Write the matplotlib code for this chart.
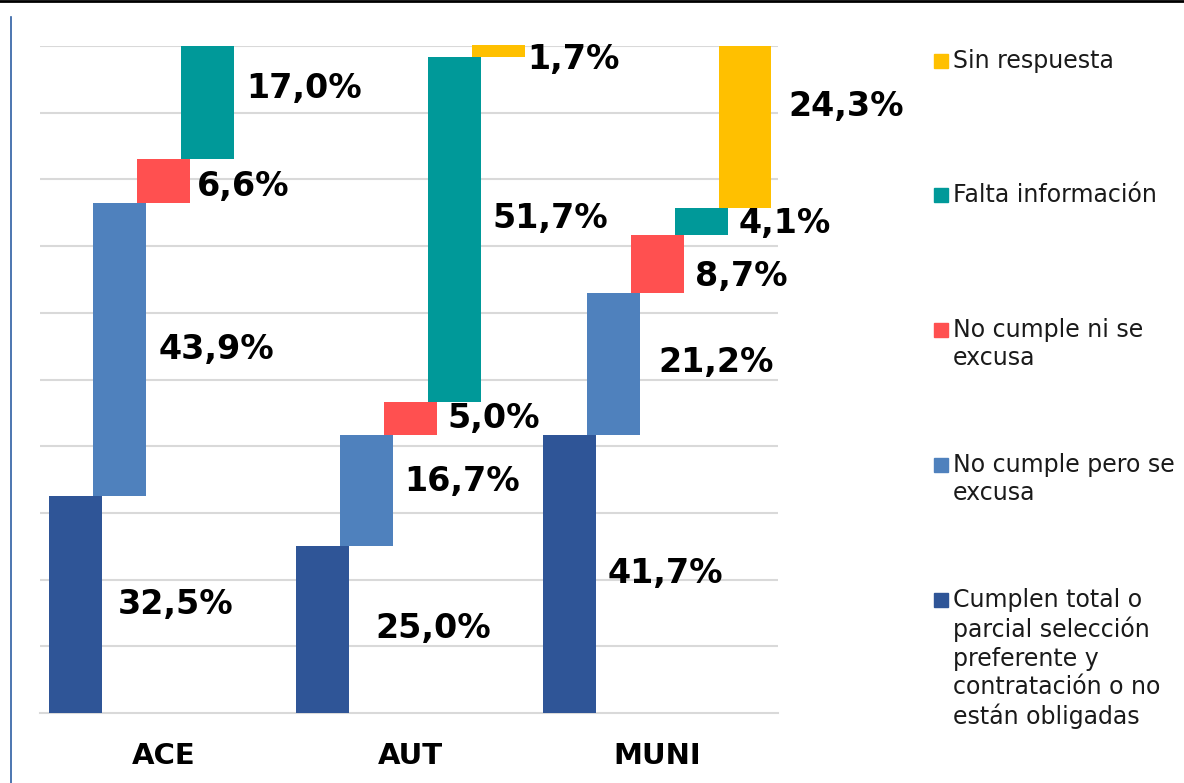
import matplotlib
matplotlib.use("Agg")
import matplotlib.pyplot as plt
from matplotlib.patches import Rectangle
from matplotlib.lines import Line2D
import numpy as np

plt.rcParams["font.family"] = ["DejaVu Sans"]

categories = ["ACE", "AUT", "MUNI"]
series_names = [
    "Cumplen total o\nparcial selección\npreferente y\ncontratación o no\nestán obligadas",
    "No cumple pero se\nexcusa",
    "No cumple ni se\nexcusa",
    "Falta información",
    "Sin respuesta",
]
cumplen = [32.5, 25.0, 41.7]
excusa = [43.9, 16.7, 21.2]
no_excusa = [6.6, 5.0, 8.7]
falta_info = [17.0, 51.7, 4.1]
sin_resp = [0.0, 1.7, 24.3]
series_values = [cumplen, excusa, no_excusa, falta_info, sin_resp]
colors = ["#2F5597", "#4F81BD", "#FF5050", "#009999", "#FFC000"]

# label nudges: vertical (percentage points) and horizontal (pixels)
label_dy = [
    [0.0, 0.0, -0.75, 2.2, 0.0],
    [0.2, 1.3, 0.0, 1.6, -1.2],
    [0.0, 0.2, -1.8, -0.3, 3.1],
]
label_dx = [
    [4, 1, -5, 0, 0],
    [15, 0, -1, 0, -9],
    [0, 7, -1, -1, 5],
]

W, H = 1184, 783
fig = plt.figure(figsize=(W / 100, H / 100), dpi=100)
ax = fig.add_axes([40 / W, 70 / H, 738 / W, 667 / H])
ax.set_xlim(-0.5, 2.49)
ax.set_ylim(0, 100)

px = 1 / 247  # data units per pixel along x
step = 44 * px
width = 53 * px
gap = 12 * px

for gi, cat in enumerate(categories):
    bottom = 0.0
    for si in range(len(series_values)):
        v = series_values[si][gi]
        xc = gi + (si - 2) * step
        if v > 0:
            ax.bar(xc, v, width=width, bottom=bottom, color=colors[si],
                   zorder=3, clip_on=False, linewidth=0)
            ax.text(xc + width / 2 + gap + label_dx[gi][si] * px,
                    bottom + v / 2 + label_dy[gi][si],
                    f"{v:.1f}%".replace(".", ","), ha="left", va="center",
                    fontsize=24, fontweight="bold", color="black", zorder=4)
        bottom += v

ax.set_yticks(np.arange(10, 101, 10))
ax.yaxis.grid(True, color="#D9D9D9", linewidth=1.5, zorder=0)
ax.tick_params(axis="y", length=0, labelleft=False)
for s in ["top", "left", "right"]:
    ax.spines[s].set_visible(False)
ax.spines["bottom"].set_color("#D9D9D9")
ax.spines["bottom"].set_linewidth(1.5)
ax.set_xticks(range(len(categories)))
ax.set_xticklabels(categories, fontsize=21, fontweight="bold")
ax.tick_params(axis="x", length=0, pad=21)

# legend (manual, reversed order)
legend_y = [61, 195, 330, 465, 600]
for k, si in enumerate(reversed(range(len(series_names)))):
    yc = legend_y[k]
    fig.patches.append(Rectangle((934 / W, 1 - (yc + 7) / H), 14 / W, 14 / H,
                                 transform=fig.transFigure, color=colors[si]))
    fig.text(953 / W, 1 - (yc - 12) / H, series_names[si], ha="left", va="top",
             fontsize=17, color="#1a1a1a", linespacing=1.23)

# frame lines
fig.lines.append(Line2D([0, 1], [1 - 1 / H, 1 - 1 / H], transform=fig.transFigure,
                        color="black", linewidth=2))
fig.lines.append(Line2D([11 / W, 11 / W], [0, 1 - 17 / H], transform=fig.transFigure,
                        color="#2E5FA3", linewidth=1.2))

fig.savefig("out.png", dpi=100)
